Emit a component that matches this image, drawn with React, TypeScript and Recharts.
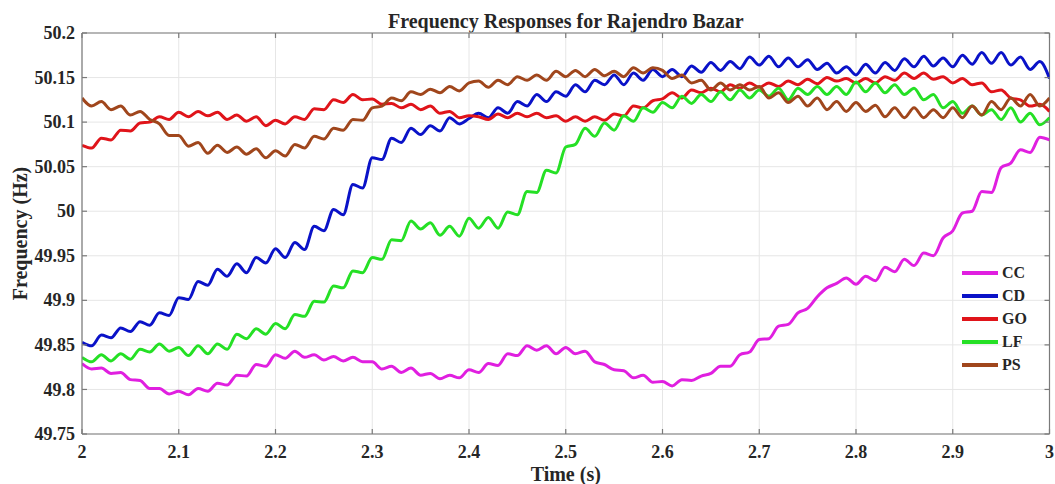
import { LineChart, Line, XAxis, YAxis, CartesianGrid, ReferenceLine } from 'recharts';

// time base 2.00 .. 3.00 s, step 0.01
const TIME = Array.from({ length: 101 }, (_, i) => Number((2 + i * 0.01).toFixed(2)));

const X_TICKS = [2, 2.1, 2.2, 2.3, 2.4, 2.5, 2.6, 2.7, 2.8, 2.9, 3];
const Y_TICKS = [49.75, 49.8, 49.85, 49.9, 49.95, 50, 50.05, 50.1, 50.15, 50.2];

// (Hz)
const CC = [
  49.829, 49.823, 49.824, 49.818, 49.819, 49.811, 49.810, 49.801, 49.801, 49.795,
  49.798, 49.794, 49.801, 49.798, 49.807, 49.805, 49.816, 49.815, 49.828, 49.826,
  49.839, 49.835, 49.843, 49.836, 49.839, 49.833, 49.837, 49.832, 49.836, 49.831,
  49.831, 49.823, 49.826, 49.819, 49.824, 49.816, 49.818, 49.812, 49.816, 49.813,
  49.822, 49.819, 49.829, 49.827, 49.840, 49.838, 49.849, 49.844, 49.849, 49.840,
  49.847, 49.840, 49.843, 49.831, 49.828, 49.822, 49.821, 49.813, 49.816, 49.808,
  49.809, 49.804, 49.811, 49.810, 49.815, 49.818, 49.826, 49.826, 49.839, 49.842,
  49.856, 49.857, 49.871, 49.873, 49.886, 49.891, 49.904, 49.914, 49.919, 49.925,
  49.918, 49.927, 49.922, 49.937, 49.932, 49.946, 49.939, 49.953, 49.950, 49.970,
  49.978, 49.998, 50.000, 50.022, 50.021, 50.049, 50.054, 50.069, 50.066, 50.083,
  50.080,
];

const CD = [
  49.853, 49.849, 49.861, 49.858, 49.869, 49.865, 49.876, 49.872, 49.886, 49.883,
  49.903, 49.901, 49.921, 49.917, 49.935, 49.927, 49.941, 49.931, 49.948, 49.942,
  49.958, 49.948, 49.965, 49.957, 49.983, 49.978, 50.002, 49.996, 50.030, 50.026,
  50.060, 50.058, 50.082, 50.077, 50.093, 50.086, 50.096, 50.090, 50.105, 50.098,
  50.104, 50.110, 50.105, 50.116, 50.110, 50.123, 50.118, 50.131, 50.123, 50.134,
  50.129, 50.142, 50.134, 50.147, 50.142, 50.153, 50.142, 50.155, 50.147, 50.159,
  50.151, 50.159, 50.151, 50.163, 50.156, 50.167, 50.158, 50.168, 50.160, 50.173,
  50.164, 50.174, 50.162, 50.172, 50.162, 50.170, 50.159, 50.166, 50.155, 50.162,
  50.153, 50.165, 50.155, 50.167, 50.158, 50.171, 50.162, 50.174, 50.163, 50.172,
  50.162, 50.175, 50.165, 50.178, 50.166, 50.178, 50.164, 50.173, 50.159, 50.168,
  50.149,
];

const GO = [
  50.074, 50.071, 50.082, 50.080, 50.091, 50.090, 50.099, 50.100, 50.106, 50.103,
  50.111, 50.106, 50.112, 50.107, 50.111, 50.103, 50.108, 50.101, 50.106, 50.096,
  50.102, 50.098, 50.106, 50.103, 50.115, 50.114, 50.125, 50.122, 50.131, 50.125,
  50.126, 50.120, 50.121, 50.116, 50.120, 50.114, 50.118, 50.110, 50.112, 50.105,
  50.107, 50.106, 50.103, 50.109, 50.105, 50.110, 50.106, 50.110, 50.105, 50.107,
  50.101, 50.106, 50.101, 50.106, 50.102, 50.109, 50.107, 50.118, 50.116, 50.124,
  50.126, 50.133, 50.127, 50.136, 50.133, 50.138, 50.134, 50.142, 50.138, 50.144,
  50.139, 50.144, 50.140, 50.146, 50.142, 50.148, 50.143, 50.150, 50.146, 50.149,
  50.144, 50.149, 50.144, 50.151, 50.147, 50.155, 50.149, 50.155, 50.148, 50.151,
  50.144, 50.149, 50.142, 50.144, 50.134, 50.136, 50.127, 50.125, 50.118, 50.120,
  50.112,
];

const LF = [
  49.836, 49.831, 49.839, 49.832, 49.840, 49.834, 49.845, 49.842, 49.851, 49.843,
  49.847, 49.838, 49.849, 49.840, 49.851, 49.845, 49.862, 49.857, 49.868, 49.862,
  49.874, 49.868, 49.884, 49.882, 49.899, 49.898, 49.916, 49.914, 49.933, 49.931,
  49.948, 49.946, 49.968, 49.967, 49.989, 49.980, 49.987, 49.973, 49.983, 49.972,
  49.992, 49.981, 49.993, 49.981, 49.999, 49.996, 50.022, 50.021, 50.046, 50.043,
  50.072, 50.075, 50.093, 50.084, 50.099, 50.091, 50.107, 50.101, 50.116, 50.111,
  50.122, 50.116, 50.129, 50.121, 50.131, 50.123, 50.134, 50.125, 50.136, 50.127,
  50.136, 50.129, 50.138, 50.125, 50.138, 50.131, 50.140, 50.131, 50.140, 50.131,
  50.145, 50.134, 50.144, 50.133, 50.142, 50.131, 50.138, 50.125, 50.131, 50.116,
  50.123, 50.110, 50.118, 50.108, 50.114, 50.103, 50.116, 50.100, 50.110, 50.097,
  50.105,
];

const PS = [
  50.127, 50.118, 50.123, 50.114, 50.118, 50.108, 50.112, 50.103, 50.098, 50.085,
  50.085, 50.073, 50.077, 50.065, 50.074, 50.066, 50.072, 50.064, 50.070, 50.060,
  50.068, 50.062, 50.075, 50.071, 50.084, 50.081, 50.093, 50.091, 50.103, 50.102,
  50.116, 50.118, 50.127, 50.124, 50.134, 50.131, 50.137, 50.133, 50.140, 50.135,
  50.144, 50.146, 50.139, 50.147, 50.142, 50.151, 50.147, 50.153, 50.147, 50.157,
  50.151, 50.158, 50.151, 50.159, 50.152, 50.157, 50.151, 50.161, 50.155, 50.161,
  50.158, 50.149, 50.153, 50.144, 50.147, 50.136, 50.144, 50.136, 50.142, 50.136,
  50.140, 50.127, 50.133, 50.122, 50.129, 50.118, 50.127, 50.114, 50.123, 50.112,
  50.122, 50.112, 50.119, 50.106, 50.116, 50.105, 50.116, 50.105, 50.114, 50.105,
  50.116, 50.105, 50.118, 50.108, 50.123, 50.114, 50.127, 50.118, 50.131, 50.118,
  50.127,
];

const SERIES = [
  { key: 'CC', color: '#e01fe0' },
  { key: 'CD', color: '#0a12c8' },
  { key: 'GO', color: '#e0141a' },
  { key: 'LF', color: '#25e025' },
  { key: 'PS', color: '#a0461c' },
];

const data = TIME.map((t, i) => ({ t, CC: CC[i], CD: CD[i], GO: GO[i], LF: LF[i], PS: PS[i] }));

const W = 1055;
const H = 484;
const PLOT_W = 967.5;
const PLOT_H = 401;
const FONT = '"Liberation Serif", "Times New Roman", serif';
const BOX = '#7a7a7a';
const TXT = '#262626';

function XTick(props: any) {
  const { x, y, payload } = props;
  return (
    <g>
      <line x1={x} x2={x} y1={y} y2={y - 5} stroke={BOX} strokeWidth={1.2} />
      <line x1={x} x2={x} y1={y - PLOT_H} y2={y - PLOT_H + 5} stroke={BOX} strokeWidth={1.2} />
      <text x={x} y={y + 24} textAnchor="middle" fontFamily={FONT} fontWeight="bold" fontSize={18} fill={TXT}>
        {payload.value}
      </text>
    </g>
  );
}

function YTick(props: any) {
  const { x, y, payload } = props;
  return (
    <g>
      <line x1={x} x2={x + 5} y1={y} y2={y} stroke={BOX} strokeWidth={1.2} />
      <line x1={x + PLOT_W} x2={x + PLOT_W - 5} y1={y} y2={y} stroke={BOX} strokeWidth={1.2} />
      <text x={x - 7} y={y} dy="0.34em" textAnchor="end" fontFamily={FONT} fontWeight="bold" fontSize={18} fill={TXT}>
        {payload.value}
      </text>
    </g>
  );
}

function LegendBox() {
  return (
    <div
      style={{
        position: 'absolute', left: 962, top: 261, fontFamily: FONT, fontWeight: 'bold',
        fontSize: 16, color: TXT, lineHeight: '23px',
      }}
    >
      {SERIES.map(s => (
        <div key={s.key} style={{ display: 'flex', alignItems: 'center', height: 23 }}>
          <div style={{ width: 36, height: 4, background: s.color, marginRight: 4 }} />
          <span>{s.key}</span>
        </div>
      ))}
    </div>
  );
}

export default function App() {
  return (
    <div style={{ position: 'absolute', left: 0, top: 0, width: W, height: H, background: '#fff' }}>
      <div
        style={{
          position: 'absolute', left: 82, top: 11, width: PLOT_W, textAlign: 'center',
          fontFamily: FONT, fontWeight: 'bold', fontSize: 20, lineHeight: '20px', color: TXT,
        }}
      >
        Frequency Responses for Rajendro Bazar
      </div>
      <LineChart width={W} height={H} data={data} margin={{ top: 33, right: W - 82 - PLOT_W, bottom: 0, left: 0 }}>
        <CartesianGrid stroke="#e6e6e6" strokeWidth={1} />
        <XAxis
          type="number"
          dataKey="t"
          domain={[2, 3]}
          ticks={X_TICKS}
          interval={0}
          height={50}
          tickSize={0}
          tickMargin={0}
          tickLine={false}
          axisLine={{ stroke: BOX, strokeWidth: 1.2 }}
          tick={<XTick />}
          allowDataOverflow
          label={{
            content: (p: any) => (
              <text
                x={p.viewBox.x + p.viewBox.width / 2}
                y={481}
                textAnchor="middle"
                fontFamily={FONT}
                fontWeight="bold"
                fontSize={20}
                fill={TXT}
              >
                Time (s)
              </text>
            ),
          }}
        />
        <YAxis
          type="number"
          domain={[49.75, 50.2]}
          ticks={Y_TICKS}
          interval={0}
          width={82}
          tickSize={0}
          tickMargin={0}
          tickLine={false}
          axisLine={{ stroke: BOX, strokeWidth: 1.2 }}
          tick={<YTick />}
          allowDataOverflow
          label={{
            content: (p: any) => {
              const cy = p.viewBox.y + p.viewBox.height / 2;
              return (
                <text
                  x={27}
                  y={cy}
                  transform={`rotate(-90 27 ${cy})`}
                  textAnchor="middle"
                  fontFamily={FONT}
                  fontWeight="bold"
                  fontSize={20}
                  fill={TXT}
                >
                  Frequency (Hz)
                </text>
              );
            },
          }}
        />
        <ReferenceLine y={50.2} stroke={BOX} strokeWidth={1.2} />
        <ReferenceLine x={3} stroke={BOX} strokeWidth={1.2} />
        {SERIES.map(s => (
          <Line
            key={s.key}
            type="monotone"
            dataKey={s.key}
            stroke={s.color}
            strokeWidth={3}
            dot={false}
            isAnimationActive={false}
          />
        ))}
      </LineChart>
      <LegendBox />
    </div>
  );
}
